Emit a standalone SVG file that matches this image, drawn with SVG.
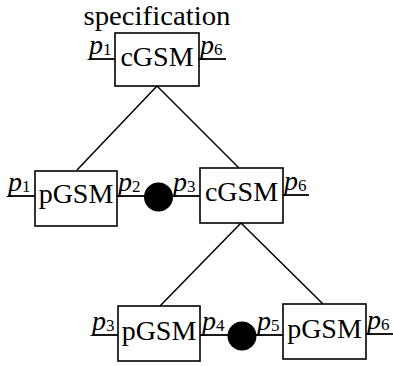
<svg xmlns="http://www.w3.org/2000/svg" width="393" height="366" viewBox="0 0 393 366">
<style>
.box{fill:#fff;stroke:#000;stroke-width:1.6}
.name{font-family:"Liberation Serif","Times New Roman",serif;font-size:28px;text-anchor:middle;fill:#000}
.lbl{font-family:"Liberation Serif","Times New Roman",serif;font-size:28px;fill:#000}
.p{font-style:italic}
.sub{font-size:17px}
.port{stroke:#000;stroke-width:1.8;fill:none}
.edge{stroke:#000;stroke-width:1.5;fill:none}
.dot{fill:#000}
</style>
<rect width="393" height="366" fill="#fff"/>
<g id="connectors">
<line class="edge" x1="157" y1="86" x2="77" y2="170"/>
<line class="edge" x1="157" y1="86" x2="239" y2="168"/>
<line class="edge" x1="241" y1="223" x2="160" y2="306"/>
<line class="edge" x1="241" y1="223" x2="323" y2="304"/>
<line class="port" x1="117" y1="196" x2="144" y2="196"/>
<line class="port" x1="173" y1="196" x2="200" y2="196"/>
<line class="port" x1="200" y1="335" x2="228" y2="335"/>
<line class="port" x1="256" y1="335" x2="283" y2="335"/>
</g>
<g id="spec">
<text class="name" x="157" y="25" textLength="147" lengthAdjust="spacingAndGlyphs">specification</text>
</g>
<g id="top-cGSM">
<rect class="box" x="115" y="33" width="84" height="53"/>
<text class="name" x="157" y="66">cGSM</text>
<line class="port" x1="89" y1="59" x2="115" y2="59"/>
<line class="port" x1="199" y1="59" x2="226" y2="59"/>
<text class="lbl" x="89" y="54"><tspan class="p">p</tspan><tspan class="sub" dy="1">1</tspan></text>
<text class="lbl" x="200" y="54"><tspan class="p">p</tspan><tspan class="sub" dy="1">6</tspan></text>
</g>
<g id="mid-pGSM">
<rect class="box" x="35" y="171" width="82" height="55"/>
<text class="name" x="76" y="203">pGSM</text>
<line class="port" x1="8" y1="196" x2="35" y2="196"/>
<text class="lbl" x="8" y="191"><tspan class="p">p</tspan><tspan class="sub" dy="1">1</tspan></text>
<text class="lbl" x="118" y="191"><tspan class="p">p</tspan><tspan class="sub" dy="1">2</tspan></text>
</g>
<g id="mid-join">
<circle class="dot" cx="158.5" cy="197" r="14.5"/>
</g>
<g id="mid-cGSM">
<rect class="box" x="200" y="168" width="83" height="55"/>
<text class="name" x="241.5" y="201">cGSM</text>
<line class="port" x1="283" y1="195" x2="309" y2="195"/>
<text class="lbl" x="173" y="191"><tspan class="p">p</tspan><tspan class="sub" dy="1">3</tspan></text>
<text class="lbl" x="284" y="190"><tspan class="p">p</tspan><tspan class="sub" dy="1">6</tspan></text>
</g>
<g id="bot-pGSM-left">
<rect class="box" x="118" y="306" width="82" height="55"/>
<text class="name" x="159" y="340">pGSM</text>
<line class="port" x1="92" y1="335" x2="118" y2="335"/>
<text class="lbl" x="92" y="330"><tspan class="p">p</tspan><tspan class="sub" dy="1">3</tspan></text>
<text class="lbl" x="202" y="330"><tspan class="p">p</tspan><tspan class="sub" dy="1">4</tspan></text>
</g>
<g id="bot-join">
<circle class="dot" cx="242" cy="336" r="14.5"/>
</g>
<g id="bot-pGSM-right">
<rect class="box" x="283" y="304" width="83" height="55"/>
<text class="name" x="324.5" y="338">pGSM</text>
<line class="port" x1="366" y1="334" x2="393" y2="334"/>
<text class="lbl" x="257" y="330"><tspan class="p">p</tspan><tspan class="sub" dy="1">5</tspan></text>
<text class="lbl" x="367" y="329"><tspan class="p">p</tspan><tspan class="sub" dy="1">6</tspan></text>
</g>
</svg>
